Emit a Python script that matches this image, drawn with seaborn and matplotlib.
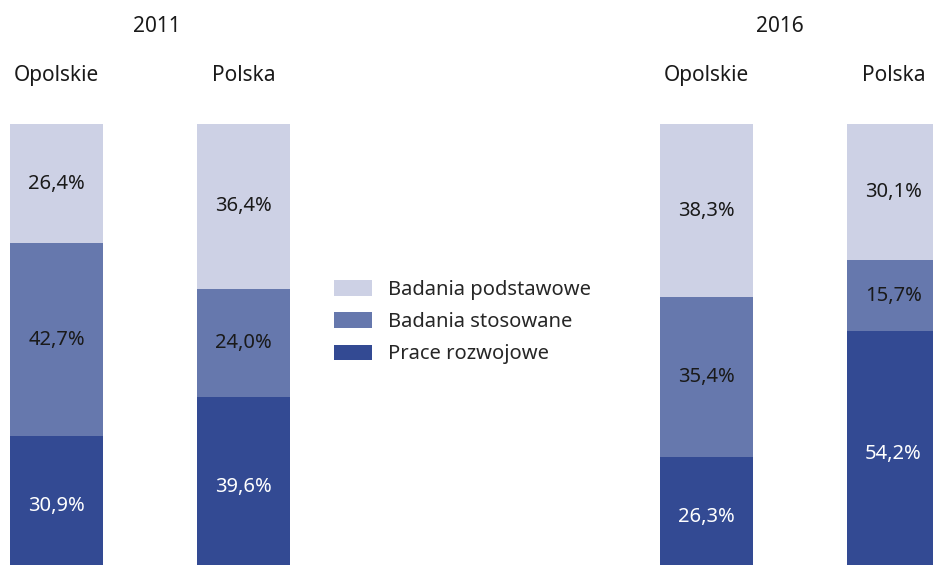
import seaborn as sns
import matplotlib.pyplot as plt
from matplotlib.patches import Patch

sns.set_style("white")
plt.rcParams["font.family"] = ["Noto Sans", "DejaVu Sans"]

years = ["2011", "2016"]
regions = ["Opolskie", "Polska"]
series = ["Badania podstawowe", "Badania stosowane", "Prace rozwojowe"]
# shares per year, in region order
podstawowe = {"2011": [26.4, 36.4], "2016": [38.3, 30.1]}
stosowane = {"2011": [42.7, 24.0], "2016": [35.4, 15.7]}
rozwojowe = {"2011": [30.9, 39.6], "2016": [26.3, 54.2]}

colors = ["#cdd1e5", "#6678ad", "#334a93"]
text_colors = ["#1a1a1a", "#1a1a1a", "white"]

W, H = 933, 565
fig = plt.figure(figsize=(W / 100, H / 100), dpi=100)

# axes boxes in pixels: left, right
boxes = {"2011": (9.75, 290.25), "2016": (659.75, 940.25)}
top_px, bottom_px = 124, 576

for year in years:
    l, r = boxes[year]
    ax = fig.add_axes([l / W, (H - bottom_px) / H, (r - l) / W, (bottom_px - top_px) / H])
    p, s, d = podstawowe[year], stosowane[year], rozwojowe[year]
    tops = [[a + b + c for a, b, c in zip(d, s, p)],
            [a + b for a, b in zip(d, s)],
            list(d)]
    for vals, col in zip(tops, colors):
        sns.barplot(x=regions, y=vals, color=col, saturation=1, width=0.5,
                    linewidth=0, ax=ax)
    # labels in the middle of each segment
    segs = [p, s, d]
    for i in range(len(regions)):
        bottoms = [tops[1][i], tops[2][i], 0]
        for k in range(3):
            ax.text(i, bottoms[k] + segs[k][i] / 2, f"{segs[k][i]:.1f}".replace(".", ",") + "%",
                    ha="center", va="center", fontsize=14.5, color=text_colors[k])
    ax.set_xlim(-0.25, 1.25)
    ax.set_ylim(0, 100)
    ax.xaxis.tick_top()
    ax.tick_params(axis="x", length=0, pad=27, labelsize=15, labelcolor="#1a1a1a")
    ax.set_yticks([])
    ax.set_xlabel("")
    ax.set_ylabel("")
    sns.despine(ax=ax, left=True, bottom=True)

fig.text(157 / W, 1 - 26 / H, years[0], ha="center", va="center", fontsize=15, color="#1a1a1a")
fig.text(780 / W, 1 - 26 / H, years[1], ha="center", va="center", fontsize=15, color="#1a1a1a")

handles = [Patch(facecolor=c, edgecolor="none") for c in colors]
fig.legend(handles, series, loc="upper left", bbox_to_anchor=(326 / W, 1 - 272 / H),
           frameon=False, fontsize=14.5, handlelength=1.9, handleheight=0.8,
           handletextpad=0.8, labelspacing=0.6, borderaxespad=0)

fig.savefig("out.png", dpi=100)
